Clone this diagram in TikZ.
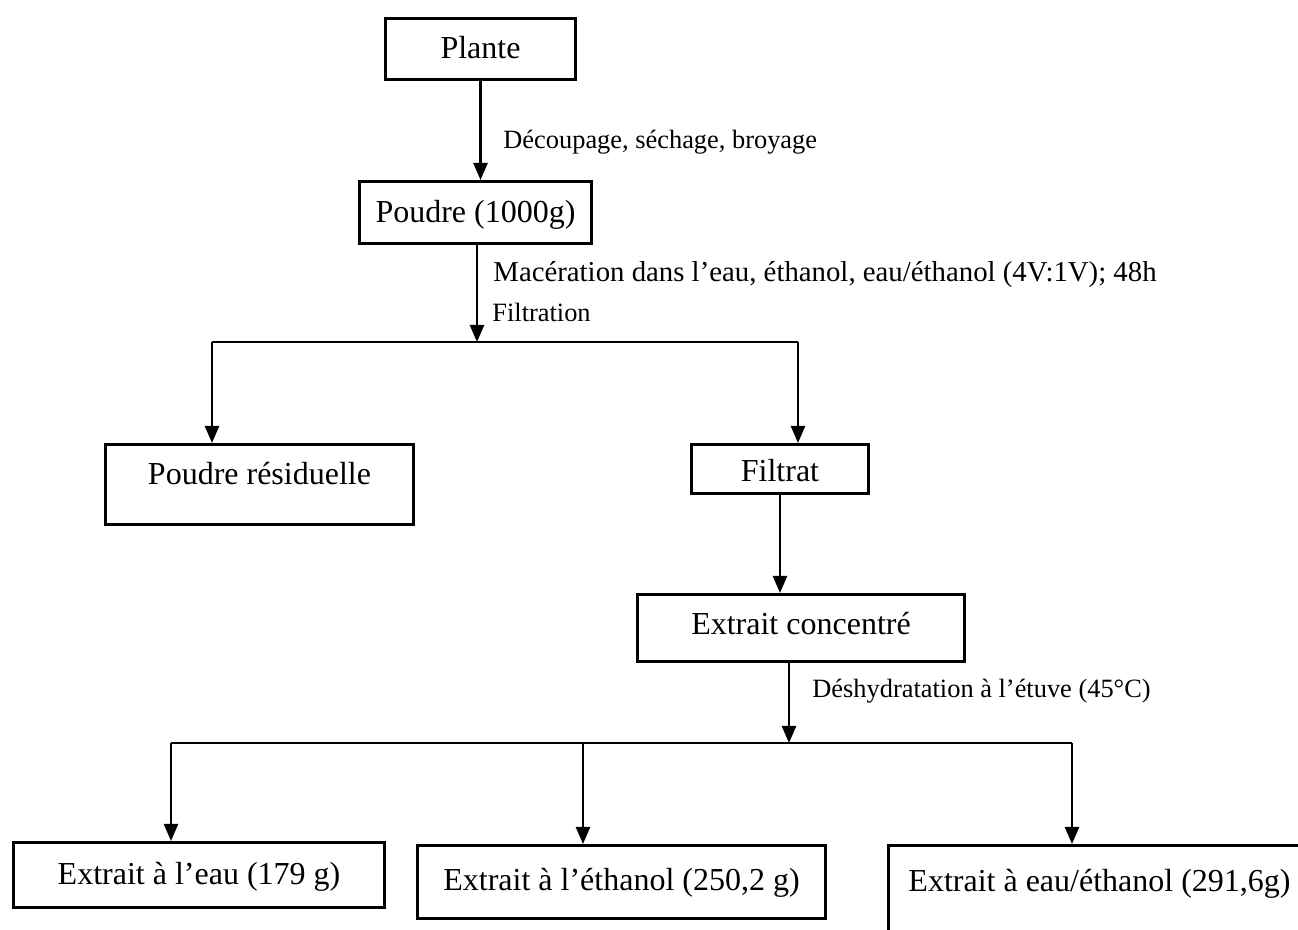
\documentclass[tikz,border=0pt]{standalone}
\usepackage{fontspec}
\setmainfont{Liberation Serif}
\usetikzlibrary{arrows.meta}

\tikzset{
  box/.style={draw, line width=1.5pt, inner sep=0pt, anchor=north west, font=\fontsize{16}{19}\selectfont},
  lbl/.style={anchor=base west, inner sep=0pt, font=\fontsize{13.2}{16}\selectfont},
  arrow/.style={line width=1.2pt, -{Triangle[width=7pt,length=8.5pt]}},
  branch/.style={line width=1pt}
}

\begin{document}
\begin{tikzpicture}[x=0.5pt, y=-0.5pt]
  \clip (0,0) rectangle (1298,930);
  % boxes
  \node[box, minimum width=95pt, text height=20pt, text depth=10.5pt] (plante) at (384,17) {Plante};
  \node[box, minimum width=116pt, text height=20.5pt, text depth=10.5pt] (poudre) at (358,180) {Poudre (1000g)};
  \node[box, minimum width=154pt, text height=20pt, text depth=20pt] (residu) at (104,443) {Poudre résiduelle};
  \node[box, minimum width=88.5pt, text height=18.5pt, text depth=6pt] (filtrat) at (690,443) {Filtrat};
  \node[box, minimum width=163.5pt, text height=20pt, text depth=13.5pt] (conc) at (636,593) {Extrait concentré};
  \node[box, minimum width=185.5pt, text height=21pt, text depth=11.5pt] (eau) at (12,841) {Extrait à l’eau (179 g)};
  \node[box, minimum width=204pt, text height=22.5pt, text depth=14pt] (ethanol) at (416,844) {Extrait à l’éthanol (250,2 g)};
  \node[box, minimum width=211pt, text height=23pt, text depth=40pt] (melange) at (887,844) {Extrait à eau/éthanol (291,6g)};

  % branch points
  \coordinate (split1) at (477,342);
  \coordinate (s1l) at (212,342);
  \coordinate (s1r) at (798,342);
  \coordinate (split2) at (789,743);
  \coordinate (s2l) at (171,743);
  \coordinate (s2m) at (583,743);
  \coordinate (s2r) at (1072,743);

  % connectors
  \draw[arrow] (plante.south) -- (plante.south |- poudre.north);
  \draw[arrow] (split1 |- poudre.south) -- (split1);
  \draw[branch] (s1l) -- (s1r);
  \draw[arrow] (s1l) -- (s1l |- residu.north);
  \draw[arrow] (s1r) -- (s1r |- filtrat.north);
  \draw[arrow] (filtrat.south) -- (filtrat.south |- conc.north);
  \draw[arrow] (split2 |- conc.south) -- (split2);
  \draw[branch] (s2l) -- (s2r);
  \draw[arrow] (s2l) -- (s2l |- eau.north);
  \draw[arrow] (s2m) -- (s2m |- ethanol.north);
  \draw[arrow] (s2r) -- (s2r |- melange.north);

  % labels
  \node[lbl] (decoupe) at (503,149) {Découpage, séchage, broyage};
  \node[lbl, font=\fontsize{14.4}{17}\selectfont] (maceration) at (493,282) {Macération dans l’eau, éthanol, eau/éthanol (4V:1V); 48h};
  \node[lbl] (filtration) at (492,322) {Filtration};
  \node[lbl] (deshydrat) at (812,698) {Déshydratation à l’étuve (45°C)};
\end{tikzpicture}
\end{document}
